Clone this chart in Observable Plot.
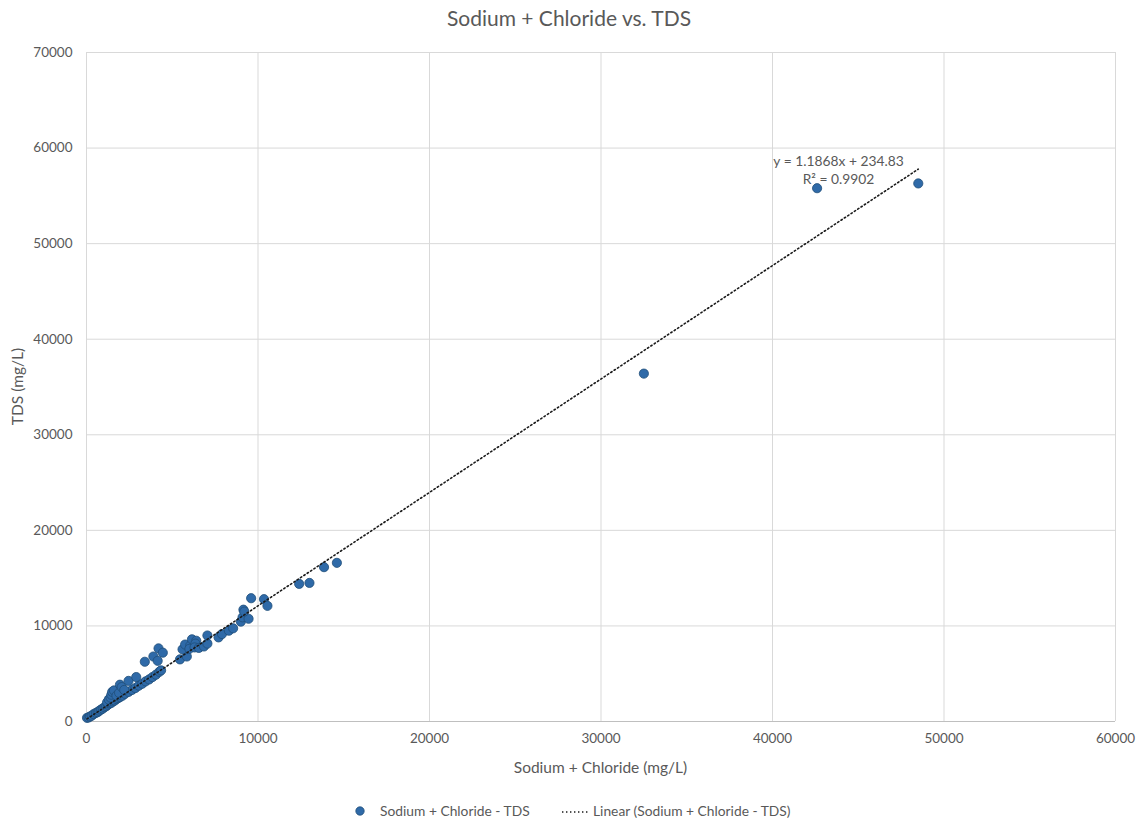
<!DOCTYPE html>
<html>
<head>
<meta charset="utf-8">
<script src="https://cdn.jsdelivr.net/npm/d3@7"></script>
<script src="https://cdn.jsdelivr.net/npm/@observablehq/plot@0.6"></script>
<style>
  body { margin: 0; background: #fff; font-family: Lato, "Open Sans", sans-serif; }
  #wrap { width: 1138px; height: 822px; position: relative; }
  #title { height: 35px; line-height: 36px; text-align: center; font-size: 21px; color: #595959; }
  #legend { height: 32px; position: relative; color: #595959; }
</style>
</head>
<body>
<div id="wrap">
  <div id="title">Sodium + Chloride vs. TDS</div>
  <div id="chart"></div>
  <div id="legend"></div>
</div>
<script>
// Sodium + Chloride (mg/L)
const naCl = [
  30, 120, 200, 300, 420, 550, 650, 750, 850, 950, 1050, 1150, 1250, 1350, 1450, 1550, 1650, 1750, 1850, 1950,
  2100, 2250, 2450, 2650, 2850, 3050, 3250, 3450, 3650, 3850, 4050, 4250, 4350,
  1200, 1300, 1400, 1450, 1500, 1600, 1750, 1900, 1950, 2050, 2200, 2450, 2900,
  3400, 3900, 4150, 4200, 4450,
  5450, 5850, 5600, 5750, 6050, 6150, 6400, 6350, 6000, 6300, 6550, 6850, 7050, 7050, 7700, 7900, 8300, 8550,
  9000, 9100, 9450, 9150, 9200, 9600, 10350, 10550,
  12400, 13000, 13850, 14600, 32500, 42600, 48500
];
// TDS (mg/L)
const tds = [
  380, 420, 520, 600, 780, 900, 980, 1120, 1250, 1350, 1500, 1600, 1750, 1880, 1950, 2100, 2200, 2350, 2450, 2550,
  2700, 2900, 3100, 3300, 3500, 3750, 3950, 4200, 4400, 4650, 4900, 5200, 5350,
  2000, 2300, 2500, 2800, 3100, 3250, 2700, 3000, 3850, 3600, 3300, 4250, 4650,
  6250, 6800, 6350, 7650, 7200,
  6500, 6800, 7550, 8050, 7950, 8600, 8450, 8150, 7600, 7750, 7700, 7850, 8150, 9000, 8800, 9150, 9500, 9750,
  10450, 10900, 10750, 11700, 11500, 12900, 12800, 12100,
  14400, 14500, 16150, 16600, 36400, 55800, 56300
];
const xTicks = [0, 10000, 20000, 30000, 40000, 50000, 60000];
const yTicks = [0, 10000, 20000, 30000, 40000, 50000, 60000, 70000];
const slope = 1.1868, intercept = 234.83;
const eqLabel = "y = 1.1868x + 234.83\nR² = 0.9902";
const seriesName = "Sodium + Chloride - TDS";
const trendName = "Linear (Sodium + Chloride - TDS)";

const points = naCl.map((x, i) => ({x, y: tds[i]}));
const [xMin, xMax] = d3.extent(naCl);
const trend = [xMin, xMax].map(x => ({x, y: slope * x + intercept}));

const grey = "#595959";
const chart = Plot.plot({
  width: 1138,
  height: 755,
  marginTop: 17,
  marginLeft: 86,
  marginRight: 23,
  marginBottom: 69,
  style: {fontFamily: "Lato, 'Open Sans', sans-serif", fontSize: "13.5px", color: grey, background: "#fff"},
  x: {domain: [0, 60000], label: null},
  y: {domain: [0, 70000], label: null},
  marks: [
    Plot.ruleX(xTicks, {stroke: "#d9d9d9", strokeWidth: 1}),
    Plot.ruleY(yTicks.filter(d => d > 0), {stroke: "#d9d9d9", strokeWidth: 1}),
    Plot.ruleY([0], {stroke: "#bfbfbf", strokeWidth: 1}),
    Plot.axisX({ticks: xTicks, tickSize: 0, tickPadding: 12, tickFormat: d => String(d), fill: grey, label: null}),
    Plot.axisY({ticks: yTicks, tickSize: 0, tickPadding: 14, tickFormat: d => String(d), fill: grey, label: null}),
    Plot.dot(points, {x: "x", y: "y", r: 4.6, fill: "#2f6aa8", stroke: "#1f4e79", strokeWidth: 0.8, fillOpacity: 1}),
    Plot.line(trend, {x: "x", y: "y", stroke: "#1a1a1a", strokeWidth: 1.6, strokeDasharray: "1.4,2.6"}),
    Plot.text([eqLabel], {x: 43850, y: 57800, text: d => d, fill: grey, fontSize: 13.8, textAnchor: "middle", lineHeight: 1.35})
  ]
});
document.getElementById("chart").appendChild(chart);

// Axis titles (inside the SVG)
const svg = d3.select(chart);
svg.append("text").attr("x", 86 + (1138 - 86 - 23) / 2).attr("y", 738).attr("text-anchor", "middle")
  .attr("fill", grey).attr("font-size", 15.5).text("Sodium + Chloride (mg/L)");
svg.append("text").attr("transform", `translate(18,${17 + (755 - 17 - 69) / 2}) rotate(-90)`)
  .attr("text-anchor", "middle").attr("dy", "0.35em")
  .attr("fill", grey).attr("font-size", 15.5).text("TDS (mg/L)");

// Legend
const leg = d3.select("#legend").append("svg").attr("width", 1138).attr("height", 32);
leg.append("circle").attr("cx", 360).attr("cy", 21).attr("r", 4.2).attr("fill", "#2f6aa8").attr("stroke", "#1f4e79").attr("stroke-width", 0.8);
leg.append("text").attr("x", 380).attr("y", 21).attr("dy", "0.35em").attr("fill", grey).attr("font-size", 13.8).text(seriesName);
leg.append("line").attr("x1", 562).attr("x2", 589).attr("y1", 22).attr("y2", 22).attr("stroke", "#1a1a1a").attr("stroke-width", 1.6).attr("stroke-dasharray", "1.4,2.6");
leg.append("text").attr("x", 593).attr("y", 21).attr("dy", "0.35em").attr("fill", grey).attr("font-size", 13.8).text(trendName);
</script>
</body>
</html>
